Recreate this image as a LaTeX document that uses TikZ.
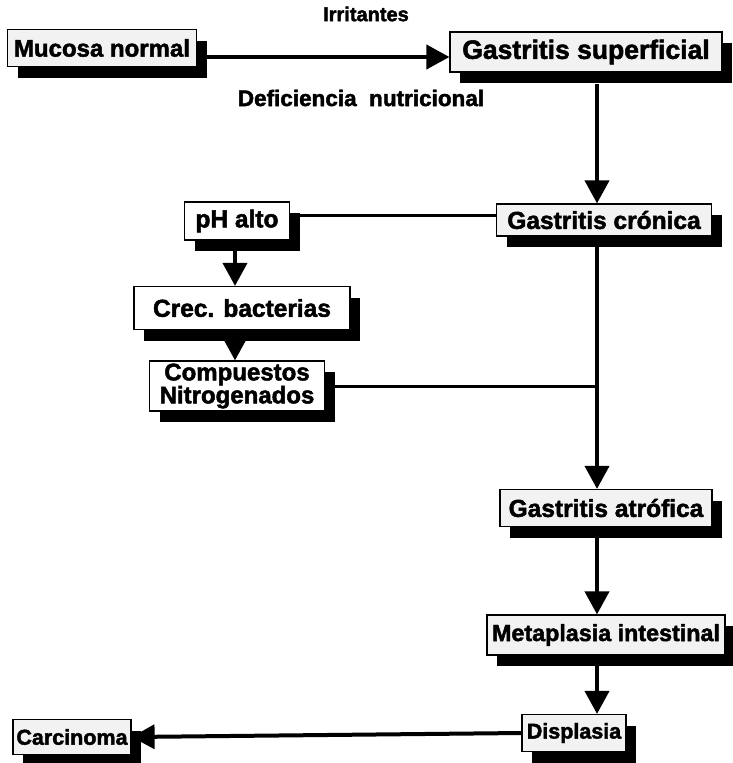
\documentclass[tikz,border=0pt]{standalone}
\usepackage{fontspec}
\setmainfont{Liberation Sans}[BoldFeatures={FakeBold=2}]
\usetikzlibrary{arrows.meta,shadows}

\begin{document}
\begin{tikzpicture}[x=1pt,y=-1pt,
    fs/.style={font=\bfseries\fontsize{#1}{#1}\selectfont},
    box/.style={draw, line width=1.2pt, fill=white, inner sep=0pt, align=center, fs=24.5,
      drop shadow={shadow xshift=10pt, shadow yshift=-11pt, fill=black, opacity=1}},
    grainy/.style={box, fill=black!5},
    flow/.style={line width=4pt, -{Triangle[width=24pt,length=23pt]}},
    link/.style={line width=3pt},
    lbl/.style={fs=20}]
  \useasboundingbox (0,0) rectangle (733,763);

  % Main sequence
  \node[grainy, fs=24, minimum width=189, minimum height=37] (mucosa) at (102,48) {Mucosa normal};
  \node[grainy, fs=26.5, minimum width=272, minimum height=40] (superf) at (586,52) {Gastritis superficial};
  \node[grainy, minimum width=215, minimum height=32] (cronica) at (604,220) {Gastritis crónica};
  \node[grainy, minimum width=212, minimum height=37] (atrofica) at (606,508) {Gastritis atrófica};
  \node[grainy, fs=23.3, minimum width=238, minimum height=40] (metapl) at (606,635) {Metaplasia intestinal};
  \node[grainy, fs=21.5, minimum width=104, minimum height=37] (displ) at (574,733) {Displasia};
  \node[grainy, fs=21.5, minimum width=118, minimum height=35] (carcin) at (72,737) {Carcinoma};

  % Side branch
  \node[box, minimum width=105, minimum height=38] (phalto) at (237,221) {pH alto};
  \node[box, minimum width=216, minimum height=43] (bacter) at (242,308) {Crec. bacterias};
  \node[box, fs=24, minimum width=175, minimum height=50] (nitrog) at (237,386) {Compuestos\\[-1pt]Nitrogenados};

  % Labels
  \node[lbl] (irrit) at (366,14) {Irritantes};
  \node[lbl, fs=22.5] (defic) at (361,98) {Deficiencia\ \ nutricional};

  % Junctions
  \coordinate (trunk) at (597,386);

  \draw[flow] (mucosa.east |- 0,57) -- (superf.west |- 0,57);
  \draw[flow] (597,84) -- (cronica.north -| 597,0);
  \draw[link] (phalto.east |- 0,215) -- (cronica.west |- 0,215);
  \draw[flow] (235,250) -- (bacter.north -| 235,0);
  \draw[flow] (235,343) -- (nitrog.north -| 235,0);
  \draw[link] (nitrog.east |- trunk) -- (trunk);
  \draw[flow] (597,243) -- (atrofica.north -| 597,0);
  \draw[flow] (597,537) -- (metapl.north -| 597,0);
  \draw[flow] (597,666) -- (displ.north -| 597,0);
  \draw[flow] (displ.west) -- (carcin.east);
\end{tikzpicture}
\end{document}
